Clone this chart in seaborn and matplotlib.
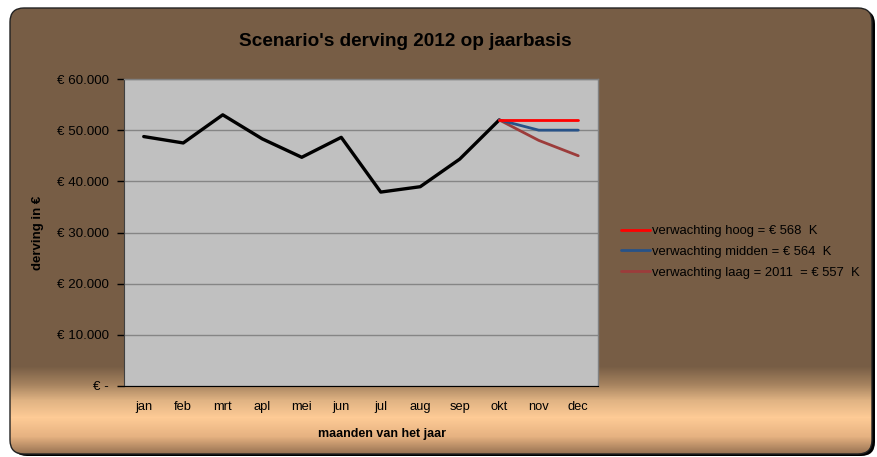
import numpy as np
import pandas as pd
import matplotlib
matplotlib.use("Agg")
import matplotlib.pyplot as plt
from matplotlib.patches import FancyBboxPatch
from matplotlib.colors import to_rgb
from matplotlib.ticker import FixedLocator, FuncFormatter
from matplotlib.lines import Line2D
import seaborn as sns

# ---- data ----
months = ['jan', 'feb', 'mrt', 'apl', 'mei', 'jun', 'jul', 'aug', 'sep', 'okt', 'nov', 'dec']
actual_months = ['jan', 'feb', 'mrt', 'apl', 'mei', 'jun', 'jul', 'aug', 'sep', 'okt']
actual = [48750, 47500, 53000, 48300, 44700, 48600, 37900, 38950, 44350, 52000]
forecast_months = ['okt', 'nov', 'dec']
hoog = [52000, 52000, 52000]
midden = [52000, 50000, 50000]
laag = [52000, 48000, 45000]
labels = ['verwachting hoog = € 568  K', 'verwachting midden = € 564  K',
          'verwachting laag = 2011  = € 557  K']
title = "Scenario's derving 2012 op jaarbasis"
yticks = [0, 10000, 20000, 30000, 40000, 50000, 60000]

sns.set_style("white")
plt.rcParams['font.family'] = ['Liberation Sans', 'DejaVu Sans']
plt.rcParams['text.color'] = 'black'
plt.rcParams['axes.labelcolor'] = 'black'

W, H = 878, 457
fig = plt.figure(figsize=(W / 100, H / 100), dpi=100)
fig.patch.set_facecolor('white')

# ---- background panel with gradient ----
bg = fig.add_axes([0, 0, 1, 1], zorder=-5)
bg.set_xlim(0, W)
bg.set_ylim(H, 0)
bg.axis('off')
stops_y = [0, 366, 384, 400, 417, 436, 456]
stops_c = ['#775d45', '#775d45', '#a6835f', '#e0b383', '#fecb96', '#e6b281', '#8a684b']
rgb = np.array([to_rgb(c) for c in stops_c])
yy = np.arange(H)
grad = np.stack([np.interp(yy, stops_y, rgb[:, k]) for k in range(3)], axis=1)
img = np.repeat(grad[:, None, :], W, axis=1)
shadow = FancyBboxPatch((13, 10), 862, 446, boxstyle="round,pad=0,rounding_size=14",
                        facecolor='black', edgecolor='none', zorder=0)
bg.add_patch(shadow)
im = bg.imshow(img, extent=(0, W, H, 0), aspect='auto', zorder=1)
im.set_clip_path(FancyBboxPatch((10, 8), 862, 446, boxstyle="round,pad=0,rounding_size=14",
                                transform=bg.transData, facecolor='none'))
frame = FancyBboxPatch((10, 8), 862, 446, boxstyle="round,pad=0,rounding_size=14",
                       facecolor='none', edgecolor='#222222', linewidth=1.0, zorder=2)
bg.add_patch(frame)

# ---- main plot ----
L, R, T, B = 124, 598, 79, 386
ax = fig.add_axes([L / W, 1 - B / H, (R - L) / W, (B - T) / H], zorder=1)
ax.set_facecolor('#c0c0c0')

idx = {m: i for i, m in enumerate(months)}
df_act = pd.DataFrame({'x': [idx[m] for m in actual_months], 'y': actual})
fx = [idx[m] for m in forecast_months]
sns.lineplot(data=df_act, x='x', y='y', color='black', lw=2.4, ax=ax, sort=False, zorder=3)
series = [(hoog, '#ff0000'), (midden, '#275288'), (laag, '#9c3c3b')]
for vals, col in series[::-1]:
    sns.lineplot(x=fx, y=vals, color=col, lw=2.0, ax=ax, zorder=4)
handles = [Line2D([], [], color=c, lw=2.0) for _, c in series]

ax.set_xlim(-0.5, 11.5)
ax.set_ylim(0, 60000)
ax.yaxis.set_major_locator(FixedLocator(yticks))
ax.yaxis.set_major_formatter(FuncFormatter(
    lambda v, p: '€ -' if v == 0 else '€ ' + f'{int(v):,}'.replace(',', '.')))
ax.set_xticks(range(12))
ax.set_xticklabels(months)
ax.set_xticks(np.arange(-0.5, 12, 1), minor=True)
ax.tick_params(axis='x', which='major', length=0, pad=11, labelsize=9.3, colors='black')
ax.tick_params(axis='x', which='minor', length=7, width=1, direction='inout', color='black')
ax.tick_params(axis='y', which='major', length=5, width=1, direction='out', pad=6,
               labelsize=9.6, colors='black', left=True)
ax.yaxis.grid(True, color='#858585', lw=1.0)
ax.set_axisbelow(True)
for s in ['top', 'right']:
    ax.spines[s].set_color('#808080')
    ax.spines[s].set_linewidth(1.0)
ax.spines['left'].set_color('#404040')
ax.spines['bottom'].set_color('black')
for s in ax.spines.values():
    s.set_visible(True)

ax.set_xlabel('maanden van het jaar', fontsize=9, fontweight='bold', color='black')
ax.xaxis.set_label_coords((382 - L) / (R - L), -(428 - B) / (B - T))
ax.set_ylabel('derving in €', fontsize=9.5, fontweight='bold', color='black')
ax.yaxis.set_label_coords((44 - L) / (R - L), 0.5)

fig.text(405 / W, 1 - 42 / H, title, ha='center', va='center', fontsize=13.7,
         fontweight='bold', color='black')

leg = fig.legend(handles, labels, loc='center left', bbox_to_anchor=(621 / W, 1 - 252 / H),
                 frameon=False, fontsize=9.4, handlelength=2.2, handletextpad=0.15,
                 labelspacing=0.66, borderaxespad=0, borderpad=0)
for t in leg.get_texts():
    t.set_color('black')

fig.savefig('out.png', dpi=100)
